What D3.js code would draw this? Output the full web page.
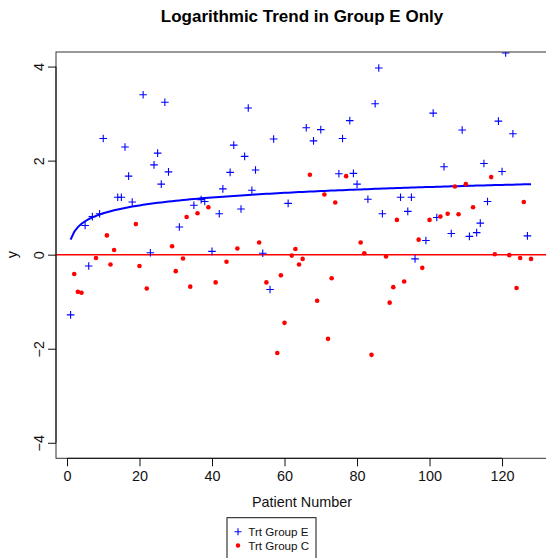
<!DOCTYPE html>
<html>
<head>
<meta charset="utf-8">
<script src="https://cdn.jsdelivr.net/npm/d3@7"></script>
<style>
  html, body { margin: 0; padding: 0; background: #fff; }
  svg { display: block; font-family: "Liberation Sans", Arial, Helvetica, sans-serif; }
</style>
</head>
<body>
<script>
// Patient indices and responses for each treatment group
const groupEPatients = [1,5,6,7,9,10,14,15,16,17,18,21,23,24,25,26,27,28,31,35,37,38,40,42,43,45,46,48,49,50,51,52,54,56,57,61,66,68,70,75,76,78,79,80,83,85,86,87,92,94,95,96,99,101,102,104,106,109,111,113,114,115,116,119,120,121,123,127];
const groupEValues = [-1.28,0.62,-0.24,0.81,0.87,2.47,1.22,1.22,2.29,1.67,1.12,3.40,0.04,1.91,2.16,1.50,3.24,1.76,0.59,1.05,1.17,1.13,0.07,0.87,1.40,1.75,2.33,0.97,2.09,3.12,1.37,1.80,0.03,-0.74,2.46,1.09,2.70,2.42,2.66,1.72,2.47,2.85,1.73,1.50,1.18,3.21,3.97,0.87,1.22,0.92,1.22,-0.09,0.30,3.01,0.79,1.87,0.45,2.65,0.39,0.47,0.67,1.94,1.13,2.84,1.77,4.29,2.57,0.40];

const groupCPatients = [2,3,4,8,11,12,13,19,20,22,29,30,32,33,34,36,39,41,44,47,53,55,58,59,60,62,63,64,65,67,69,71,72,73,74,77,81,82,84,88,89,90,91,93,97,98,100,103,105,107,108,110,112,117,118,122,124,125,126,128];
const groupCValues = [-0.41,-0.79,-0.81,-0.07,0.41,-0.21,0.10,0.65,-0.24,-0.72,0.18,-0.35,-0.08,0.80,-0.68,0.88,1.01,-0.59,-0.15,0.13,0.26,-0.59,-2.09,-0.44,-1.45,-0.02,0.12,-0.21,-0.09,1.70,-0.98,1.28,-1.79,-0.50,1.11,1.67,0.26,0.03,-2.13,-0.04,-1.02,-0.69,0.74,-0.57,0.32,-0.28,0.74,0.81,0.87,1.45,0.86,1.50,1.01,1.65,0.01,-0.01,-0.71,-0.07,1.12,-0.09];

// Fitted log trend for group E: y = intercept + slope * ln(patient)
const trendIntercept = 0.32;
const trendSlope = 0.243;
// Group C reference level
const groupCLevel = 0;

const xTicks = [0, 20, 40, 60, 80, 100, 120];
const yTicks = [-4, -2, 0, 2, 4];
const legendLabels = ["Trt Group E", "Trt Group C"];

const W = 546, H = 558;
const plot = { left: 56, right: 547, top: 52, bottom: 458.3 };

const svg = d3.select("body").append("svg").attr("width", W).attr("height", H);

const x = d3.scaleLinear().domain([-3.03, 132.4]).range([plot.left, plot.right]);
const y = d3.scaleLinear().domain([-4.33, 4.31]).range([plot.bottom, plot.top]);

const BLUE = "#0000ff", RED = "#ff0000";

svg.append("defs").append("clipPath").attr("id", "plotClip")
  .append("rect")
  .attr("x", plot.left).attr("y", plot.top)
  .attr("width", plot.right - plot.left).attr("height", plot.bottom - plot.top);

const body = svg.append("g").attr("clip-path", "url(#plotClip)");

// Group C reference line
body.append("line")
  .attr("x1", plot.left).attr("x2", plot.right)
  .attr("y1", y(groupCLevel)).attr("y2", y(groupCLevel))
  .attr("stroke", RED).attr("stroke-width", 1.6);

// Log trend for group E, evaluated at each patient index
const trendX = d3.range(1, 129);
body.append("path")
  .datum(trendX)
  .attr("fill", "none").attr("stroke", BLUE).attr("stroke-width", 2)
  .attr("d", d3.line().x(d => x(d)).y(d => y(trendIntercept + trendSlope * Math.log(d))));

// Group E points as crosses
const cs = 3.8;
const eGroup = body.append("g").attr("stroke", BLUE).attr("stroke-width", 1.1);
groupEPatients.forEach((p, i) => {
  const cx = x(p), cy = y(groupEValues[i]);
  eGroup.append("path").attr("d", `M${cx - cs},${cy}H${cx + cs}M${cx},${cy - cs}V${cy + cs}`);
});

// Group C points as small dots
body.append("g").selectAll("circle")
  .data(groupCPatients)
  .join("circle")
  .attr("cx", d => x(d))
  .attr("cy", (d, i) => y(groupCValues[i]))
  .attr("r", 2.3)
  .attr("fill", RED);

// Plot frame
svg.append("rect")
  .attr("x", plot.left).attr("y", plot.top)
  .attr("width", plot.right - plot.left).attr("height", plot.bottom - plot.top)
  .attr("fill", "none").attr("stroke", "#333").attr("stroke-width", 1);

// Axes
const fmt = d => (d < 0 ? "\u2212" + Math.abs(d) : String(d));
const xAxis = svg.append("g")
  .attr("transform", `translate(0,${plot.bottom})`)
  .call(d3.axisBottom(x).tickValues(xTicks).tickFormat(fmt).tickSize(8).tickPadding(4));
xAxis.select(".domain").attr("d", `M${x(0)},0H${x(120)}`).attr("stroke", "#111");
xAxis.selectAll(".tick line").attr("stroke", "#111");
xAxis.selectAll("text").attr("font-size", "14.4px").attr("fill", "#111")
  .attr("font-family", "Liberation Sans, Arial, sans-serif");

const yAxis = svg.append("g")
  .attr("transform", `translate(${plot.left},0)`)
  .call(d3.axisLeft(y).tickValues(yTicks).tickFormat(fmt).tickSize(8));
yAxis.select(".domain").attr("d", `M0,${y(-4)}V${y(4)}`).attr("stroke", "#111");
yAxis.selectAll(".tick line").attr("stroke", "#111");
yAxis.selectAll("text")
  .attr("x", null).attr("dy", null)
  .attr("transform", "translate(-12,0) rotate(-90)")
  .attr("text-anchor", "middle")
  .attr("y", 0)
  .attr("font-size", "14.4px").attr("fill", "#111")
  .attr("font-family", "Liberation Sans, Arial, sans-serif");

// Title and axis labels
svg.append("text")
  .attr("x", 302).attr("y", 21.5)
  .attr("text-anchor", "middle")
  .attr("font-weight", "bold").attr("font-size", "17px").attr("fill", "#000")
  .text("Logarithmic Trend in Group E Only");

svg.append("text")
  .attr("x", 302).attr("y", 507)
  .attr("text-anchor", "middle")
  .attr("font-size", "14.4px").attr("fill", "#111")
  .text("Patient Number");

svg.append("text")
  .attr("transform", `translate(17,${y(0)}) rotate(-90)`)
  .attr("text-anchor", "middle")
  .attr("font-size", "14.4px").attr("fill", "#111")
  .text("y");

// Legend below the plot
const legend = svg.append("g");
legend.append("rect")
  .attr("x", 227).attr("y", 517.7).attr("width", 89).attr("height", 60)
  .attr("fill", "#fff").attr("stroke", "#111").attr("stroke-width", 1);
const lx = 238, ly = [531.7, 545.5];
legend.append("path")
  .attr("d", `M${lx - 3.5},${ly[0]}H${lx + 3.5}M${lx},${ly[0] - 3.5}V${ly[0] + 3.5}`)
  .attr("stroke", BLUE).attr("stroke-width", 1.1);
legend.append("circle").attr("cx", lx).attr("cy", ly[1]).attr("r", 2.2).attr("fill", RED);
legendLabels.forEach((t, i) => {
  legend.append("text")
    .attr("x", 248.3).attr("y", ly[i] + 4)
    .attr("font-size", "11.6px").attr("fill", "#111")
    .text(t);
});
</script>
</body>
</html>
